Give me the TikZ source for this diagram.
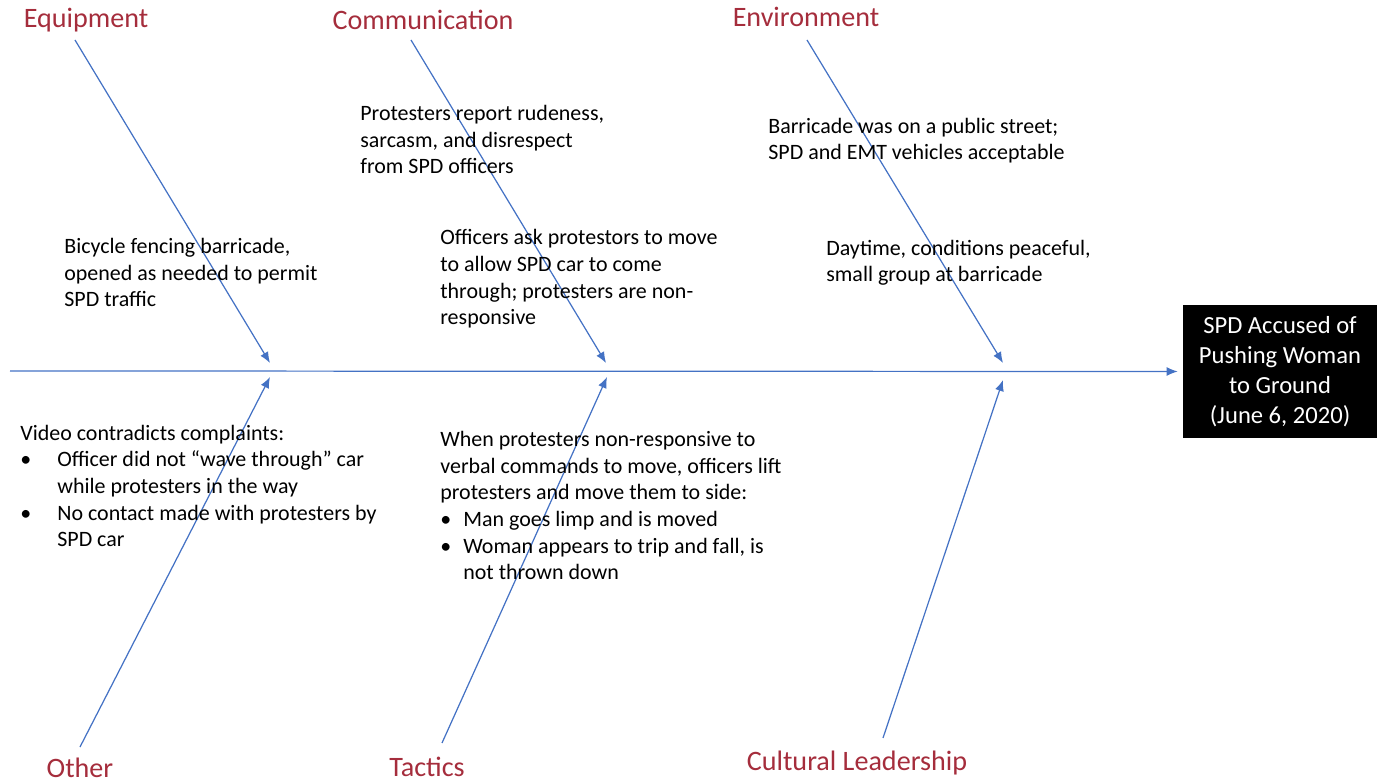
\documentclass[tikz,border=0pt]{standalone}
\usepackage{fontspec}
\setmainfont{Carlito}
\usepackage{xcolor}
\usetikzlibrary{arrows.meta}
\definecolor{bonecol}{RGB}{68,114,196}
\definecolor{catcol}{RGB}{165,45,60}
\newcommand{\bulmark}[1]{\makebox[#1][l]{\textbullet}}

\begin{document}
\begin{tikzpicture}[x=0.02cm,y=-0.02cm,
	bone/.style={draw=bonecol,line width=0.7pt,-{Latex[length=2.2mm,width=1.8mm]}},
	cat/.style={text=catcol,inner sep=0pt,font=\fontsize{16}{19}\selectfont},
	note/.style={anchor=base west,align=left,inner sep=0pt,font=\fontsize{12.5}{15.2}\selectfont},
	effect/.style={fill=black,text=white,align=center,inner sep=0pt,minimum width=3.88cm,minimum height=2.66cm,font=\fontsize{14}{17}\selectfont}]
			\useasboundingbox (0,0) rectangle (1383,783);
			% head and spine
			\node[effect] (eff) at (1280,371.5) {SPD Accused of\\Pushing Woman\\to Ground\\(June 6, 2020)};
			\coordinate (tail) at (10,371);
			\draw[bone,shorten >=1mm] (tail) -- (eff.west);
			% categories
			\node[cat] (equip) at (86,20) {Equipment};
			\node[cat] (comm) at (423,20) {Communication};
			\node[cat] (envir) at (806,17) {Environment};
			\node[cat] (other) at (80,768) {Other};
			\node[cat] (tact) at (427,767) {Tactics};
			\node[cat] (cult) at (857,763) {Cultural Leadership};
			% bones
			\coordinate (equipA) at (75,40);   \coordinate (equipB) at (270,363);
			\coordinate (commA) at (411,40);   \coordinate (commB) at (606,363);
			\coordinate (envirA) at (807,40);  \coordinate (envirB) at (1003,363);
			\coordinate (otherA) at (80,747);  \coordinate (otherB) at (270,377);
			\coordinate (tactA) at (442,743);  \coordinate (tactB) at (607,377);
			\coordinate (cultA) at (883,738);  \coordinate (cultB) at (1003,380);
			\draw[bone] (equipA) -- (equipB);
			\draw[bone] (commA) -- (commB);
			\draw[bone] (envirA) -- (envirB);
			\draw[bone] (otherA) -- (otherB);
			\draw[bone] (tactA) -- (tactB);
			\draw[bone] (cultA) -- (cultB);
			% notes (placed by the baseline of their last line)
			\node[note] (bike) at (64,307) {Bicycle fencing barricade,\\opened as needed to permit\\SPD traffic};
			\node[note] (rude) at (360,174) {Protesters report rudeness,\\sarcasm, and disrespect\\from SPD officers};
			\node[note] (ask) at (440,325) {Officers ask protestors to move\\to allow SPD car to come\\through; protesters are non-\\responsive};
			\node[note] (street) at (768,160) {Barricade was on a public street;\\SPD and EMT vehicles acceptable};
			\node[note] (day) at (826,282) {Daytime, conditions peaceful,\\small group at barricade};
			\node[note] (video) at (20,547) {Video contradicts complaints:\\
				\bulmark{0.74cm}Officer did not “wave through” car\\
				\hspace*{0.74cm}while protesters in the way\\
				\bulmark{0.74cm}No contact made with protesters by\\
				\hspace*{0.74cm}SPD car};
			\node[note] (lift) at (440,580) {When protesters non-responsive to\\verbal commands to move, officers lift\\protesters and move them to side:\\
				\bulmark{0.46cm}Man goes limp and is moved\\
				\bulmark{0.46cm}Woman appears to trip and fall, is\\
				\hspace*{0.46cm}not thrown down};
		\end{tikzpicture}
\end{document}
